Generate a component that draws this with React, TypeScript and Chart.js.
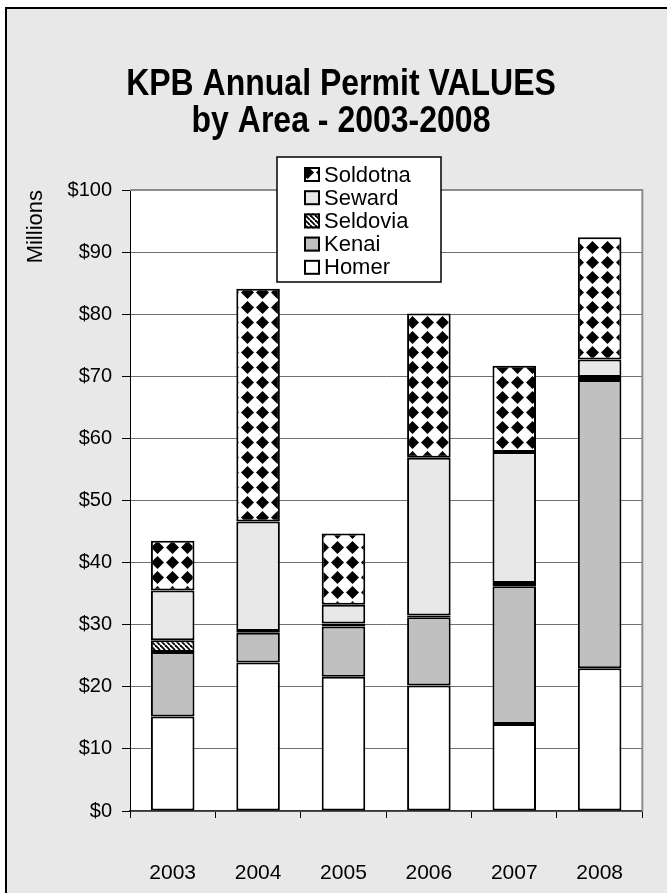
import { useEffect, useRef } from 'react';
import { Chart, registerables } from 'chart.js';

Chart.register(...registerables);

const years = ['2003', '2004', '2005', '2006', '2007', '2008'];
const homer = [15.2, 23.9, 21.6, 20.2, 14.0, 23.0];
const kenai = [10.4, 4.8, 8.1, 11.0, 22.2, 46.4];
const seldovia = [1.9, 0.3, 0.5, 0.3, 0.5, 0.5];
const seward = [8.0, 17.6, 3.0, 25.4, 21.1, 2.8];
const soldotna = [8.0, 37.5, 11.5, 23.2, 13.9, 19.7];
const titleLines = ['KPB Annual Permit VALUES', 'by Area - 2003-2008'];
const yAxisTitle = 'Millions';
const yTickPrefix = '$';

const FONT = '"Liberation Sans", Arial, Helvetica, sans-serif';

function diamondPattern(ctx: CanvasRenderingContext2D) {
  const c = document.createElement('canvas');
  c.width = 15;
  c.height = 15;
  const g = c.getContext('2d')!;
  g.fillStyle = '#fff';
  g.fillRect(0, 0, 15, 15);
  g.fillStyle = '#000';
  g.beginPath();
  g.moveTo(7.5, 1.0);
  g.lineTo(14.0, 7.5);
  g.lineTo(7.5, 14.0);
  g.lineTo(1.0, 7.5);
  g.closePath();
  g.fill();
  return ctx.createPattern(c, 'repeat')!;
}

function stripePattern(ctx: CanvasRenderingContext2D) {
  const c = document.createElement('canvas');
  c.width = 5;
  c.height = 5;
  const g = c.getContext('2d')!;
  g.fillStyle = '#fff';
  g.fillRect(0, 0, 5, 5);
  g.strokeStyle = '#000';
  g.lineWidth = 1.8;
  for (const o of [-5, 0, 5]) {
    g.beginPath();
    g.moveTo(o, 0);
    g.lineTo(o + 5, 5);
    g.stroke();
  }
  return ctx.createPattern(c, 'repeat')!;
}

export default function App() {
  const ref = useRef<HTMLCanvasElement>(null);

  useEffect(() => {
    const canvas = ref.current!;
    const ctx = canvas.getContext('2d')!;
    const diamonds = diamondPattern(ctx);
    const stripes = stripePattern(ctx);

    const common = {
      borderColor: '#000',
      borderWidth: 2,
      borderSkipped: false as const,
      inflateAmount: 0,
      barPercentage: 0.51,
      categoryPercentage: 1,
    };

    const areaPlugin = {
      id: 'areaBg',
      beforeDraw(chart: any) {
        const { ctx: c, chartArea: a } = chart;
        c.save();
        c.fillStyle = '#fff';
        c.fillRect(a.left, a.top, a.right - a.left, a.bottom - a.top);
        c.restore();
      },
      beforeDatasetsDraw(chart: any) {
        const { ctx: c, chartArea: a } = chart;
        c.save();
        c.strokeStyle = '#8c8c8c';
        c.lineWidth = 2;
        c.beginPath();
        c.moveTo(a.left, a.top);
        c.lineTo(a.right, a.top);
        c.lineTo(a.right, a.bottom);
        c.stroke();
        c.restore();
      },
    };

    const titlePlugin = {
      id: 'stretchedTitle',
      afterDraw(chart: any) {
        const c = chart.ctx as CanvasRenderingContext2D;
        const baselines = [94.5, 132];
        c.save();
        c.fillStyle = '#000';
        c.font = `bold 32px ${FONT}`;
        c.textAlign = 'center';
        c.textBaseline = 'alphabetic';
        titleLines.forEach((t, i) => {
          c.save();
          c.translate(341, baselines[i]);
          c.scale(1, 1.15);
          c.fillText(t, 0, 0);
          c.restore();
        });
        c.restore();
      },
    };

    const legendPlugin = {
      id: 'boxLegend',
      afterDraw(chart: any) {
        const c = chart.ctx as CanvasRenderingContext2D;
        const x = 277, y = 157, w = 164, h = 125;
        c.save();
        c.fillStyle = '#fff';
        c.fillRect(x, y, w, h);
        c.strokeStyle = '#000';
        c.lineWidth = 1.5;
        c.strokeRect(x, y, w, h);
        const ds = [...chart.data.datasets].reverse();
        c.font = `22px ${FONT}`;
        c.textBaseline = 'middle';
        c.textAlign = 'left';
        ds.forEach((d: any, i: number) => {
          const cy = 174.5 + i * 23.2;
          c.fillStyle = d.backgroundColor;
          c.fillRect(304, cy - 7.5, 16, 15);
          c.strokeStyle = '#000';
          c.lineWidth = 2;
          c.strokeRect(305, cy - 6.5, 14, 13);
          c.fillStyle = '#000';
          c.fillText(d.label, 324, cy + 1);
        });
        c.restore();
      },
    };

    const chart = new Chart(canvas, {
      type: 'bar',
      data: {
        labels: years,
        datasets: [
          { label: 'Homer', data: homer, backgroundColor: '#ffffff', ...common },
          { label: 'Kenai', data: kenai, backgroundColor: '#c0c0c0', ...common },
          { label: 'Seldovia', data: seldovia, backgroundColor: stripes as any, ...common },
          { label: 'Seward', data: seward, backgroundColor: '#e8e8e8', ...common },
          { label: 'Soldotna', data: soldotna, backgroundColor: diamonds as any, ...common },
        ],
      },
      options: {
        responsive: false,
        animation: false,
        devicePixelRatio: 1,
        layout: { padding: { left: 23, right: 12, top: 190, bottom: 0 } },
        plugins: {
          legend: { display: false },
          tooltip: { enabled: false },
          title: { display: false },
        },
        scales: {
          x: {
            stacked: true,
            grid: {
              offset: true,
              drawOnChartArea: false,
              drawTicks: true,
              tickLength: 7,
              tickColor: '#000',
            },
            border: { color: '#333', width: 1.5 },
            ticks: { color: '#000', padding: 43, font: { family: FONT, size: 21 } },
            afterFit(s: any) {
              s.height = 82;
            },
          },
          y: {
            stacked: true,
            min: 0,
            max: 100,
            ticks: {
              stepSize: 10,
              color: '#000',
              padding: 10,
              font: { family: FONT, size: 20 },
              callback: (v: any) => yTickPrefix + v,
            },
            grid: { color: '#707070', lineWidth: 1, tickLength: 8, tickColor: '#000' },
            border: { color: '#000', width: 1 },
            title: {
              display: true,
              text: yAxisTitle,
              align: 'end',
              color: '#000',
              font: { family: FONT, size: 22 },
              padding: { top: 0, bottom: 0 },
            },
            afterFit(s: any) {
              s.width = 129 - 22;
            },
          },
        },
      },
      plugins: [areaPlugin, titlePlugin, legendPlugin],
    });
    return () => chart.destroy();
  }, []);

  return (
    <div style={{ position: 'fixed', left: 0, top: 0, width: 667, height: 893, background: '#fff', overflow: 'hidden' }}>
      <div
        style={{
          position: 'absolute',
          left: 5,
          top: 7,
          width: 700,
          height: 950,
          background: '#e8e8e8',
          borderLeft: '2px solid #000',
          borderTop: '2px solid #000',
        }}
      />
      <canvas ref={ref} width={667} height={893} style={{ position: 'absolute', left: 0, top: 0 }} />
    </div>
  );
}
